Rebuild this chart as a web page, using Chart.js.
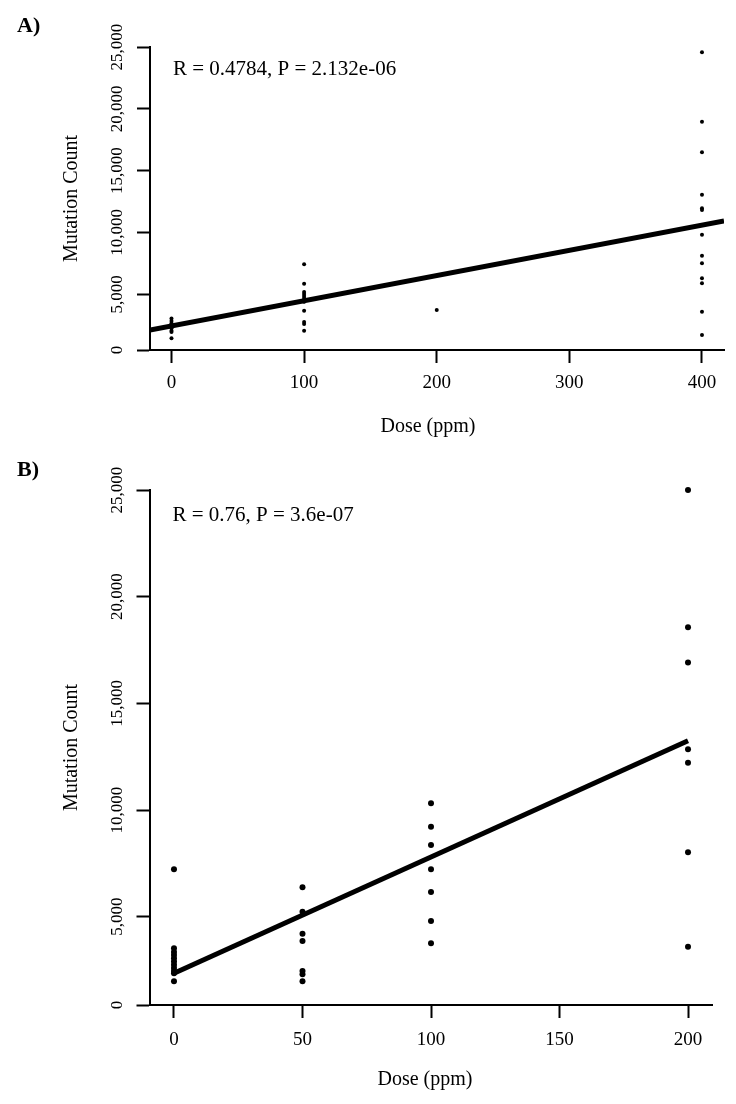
<!DOCTYPE html>
<html><head><meta charset="utf-8">
<script src="https://cdn.jsdelivr.net/npm/chart.js@4/dist/chart.umd.min.js"></script>
<style>
html,body{margin:0;padding:0;background:#fff;}
body{width:736px;height:1104px;position:relative;overflow:hidden;}
canvas{position:absolute;left:0;top:0;}
#wrapA{position:absolute;left:0;top:0;width:736px;height:450px;}
#wrapB{position:absolute;left:0;top:450px;width:736px;height:654px;}
</style></head><body>
<div id="wrapA"><canvas id="cA" width="736" height="450"></canvas></div>
<div id="wrapB"><canvas id="cB" width="736" height="654"></canvas></div>
<script>
// ---------- Panel A data ----------
const dosesA = [0, 100, 200, 400];
const countsA_dose0   = [3050, 2850, 2650, 2450, 2250, 2050, 1950, 1450];
const countsA_dose100 = [7430, 5860, 5190, 5020, 4860, 4700, 4540, 4400, 3670, 2760, 2600, 2060];
const countsA_dose200 = [3730];
const countsA_dose400 = [24570, 18960, 16480, 13060, 11960, 11820, 9820, 8120, 7510, 6290, 5890, 3590, 1710];
const fitA = { intercept: 2442, slope: 20.38 };
const statTextA = "R = 0.4784, P = 2.132e-06";
const xTicksA = [0, 100, 200, 300, 400];
const xRangeA = [-16.2, 416.6];
const yRangeA = [495, 25000];

// ---------- Panel B data ----------
const dosesB = [0, 50, 100, 200];
const countsB_dose0   = [7220, 3520, 3350, 3200, 3050, 2900, 2750, 2600, 2450, 2350, 1970];
const countsB_dose50  = [6380, 5230, 4200, 3860, 2450, 2300, 1970];
const countsB_dose100 = [10320, 9220, 8360, 7220, 6160, 4800, 3750];
const countsB_dose200 = [25000, 18570, 16910, 12850, 12220, 8020, 3590];
const fitB = { intercept: 2346, slope: 54.52, from: 0, to: 200 };
const statTextB = "R = 0.76, P = 3.6e-07";
const xTicksB = [0, 50, 100, 150, 200];
const xRangeB = [-9.53, 209.53];
const yRangeB = [860, 25000];

// shared axis text
const yTickValues = [0, 5000, 10000, 15000, 20000, 25000];
const yTickLabels = ["0", "5,000", "10,000", "15,000", "20,000", "25,000"];
const xTitle = "Dose (ppm)";
const yTitle = "Mutation Count";

const SERIF = '"Liberation Serif", "Times New Roman", serif';

function toPoints(doses, groups) {
  const pts = [];
  groups.forEach((g, i) => g.forEach(v => pts.push({ x: doses[i], y: v })));
  return pts;
}

const annotate = {
  id: 'annotate',
  afterDraw(chart, args, o) {
    const ctx = chart.ctx;
    const ca = chart.chartArea;
    ctx.save();
    ctx.fillStyle = '#000';
    ctx.textBaseline = 'middle';
    ctx.textAlign = 'left';
    ctx.font = '21px ' + SERIF;
    ctx.fillText(o.text, ca.left + o.dx, ca.top + o.dy);
    ctx.font = 'bold 22px ' + SERIF;
    ctx.fillText(o.panel, o.px, o.py);
    ctx.textAlign = 'center';
    ctx.font = '20px ' + SERIF;
    ctx.fillText(xTitle, (ca.left + ca.right) / 2 + o.titleDx, ca.bottom + o.titleDy);
    ctx.restore();
  }
};

function makeChart(id, cfg) {
  const pts = toPoints(cfg.doses, cfg.groups);
  const x0 = cfg.lineFrom, x1 = cfg.lineTo;
  const line = [
    { x: x0, y: cfg.fit.intercept + cfg.fit.slope * x0 },
    { x: x1, y: cfg.fit.intercept + cfg.fit.slope * x1 }
  ];
  return new Chart(document.getElementById(id), {
    type: 'scatter',
    data: {
      datasets: [
        { data: pts, pointRadius: cfg.pr, pointHoverRadius: cfg.pr, backgroundColor: '#000', borderColor: '#000', borderWidth: 0, clip: false },
        { data: line, showLine: true, borderColor: '#000', borderWidth: 5, pointRadius: 0, borderCapStyle: 'butt', fill: false }
      ]
    },
    plugins: [annotate],
    options: {
      responsive: false,
      animation: false,
      devicePixelRatio: 1,
      layout: { padding: { left: 0, top: cfg.padTop, right: cfg.padRight, bottom: 0 } },
      plugins: {
        legend: { display: false },
        tooltip: { enabled: false },
        annotate: { text: cfg.text, dx: 23, dy: cfg.textDy, panel: cfg.panel, px: 17, py: cfg.panelY, titleDx: cfg.titleDx, titleDy: cfg.titleDy }
      },
      scales: {
        x: {
          type: 'linear',
          min: cfg.xRange[0], max: cfg.xRange[1],
          afterBuildTicks: s => { s.ticks = cfg.xTicks.map(v => ({ value: v })); },
          afterFit: s => { s.height = cfg.xHeight; },
          grid: { drawOnChartArea: false, drawTicks: true, tickLength: 13, tickWidth: 2, tickColor: '#000' },
          border: { display: true, color: '#000', width: 2 },
          ticks: { color: '#000', font: { family: SERIF, size: 19 }, padding: cfg.xTickPad, maxRotation: 0, callback: v => String(v) },
          title: { display: false }
        },
        y: {
          type: 'linear',
          min: cfg.yRange[0], max: cfg.yRange[1],
          afterBuildTicks: s => { s.ticks = yTickValues.map(v => ({ value: Math.max(v, s.min) })); },
          afterFit: s => { s.width = cfg.yWidth; },
          grid: { drawOnChartArea: false, drawTicks: true, tickLength: 13, tickWidth: 2, tickColor: '#000' },
          border: { display: true, color: '#000', width: 2 },
          ticks: { color: '#000', font: { family: SERIF, size: 17 }, padding: -4, minRotation: 90, maxRotation: 90, crossAlign: 'center', callback: (v, i) => yTickLabels[i] },
          title: { display: true, text: yTitle, color: '#000', font: { family: SERIF, size: 20 }, padding: { top: 60, bottom: 0 } }
        }
      }
    }
  });
}

makeChart('cA', {
  doses: dosesA,
  groups: [countsA_dose0, countsA_dose100, countsA_dose200, countsA_dose400],
  fit: fitA, lineFrom: xRangeA[0], lineTo: xRangeA[1],
  xRange: xRangeA, yRange: yRangeA, xTicks: xTicksA,
  pr: 2, padTop: 47, padRight: 12, xHeight: 100, yWidth: 150,
  xTickPad: 9, titleDx: -9, titleDy: 77,
  text: statTextA, textDy: 22, panel: 'A)', panelY: 26
});

makeChart('cB', {
  doses: dosesB,
  groups: [countsB_dose0, countsB_dose50, countsB_dose100, countsB_dose200],
  fit: fitB, lineFrom: fitB.from, lineTo: fitB.to,
  xRange: xRangeB, yRange: yRangeB, xTicks: xTicksB,
  pr: 3, padTop: 40, padRight: 23.5, xHeight: 99, yWidth: 149.5,
  xTickPad: 11, titleDx: -6, titleDy: 75,
  text: statTextB, textDy: 25, panel: 'B)', panelY: 20
});
</script>
</body></html>
